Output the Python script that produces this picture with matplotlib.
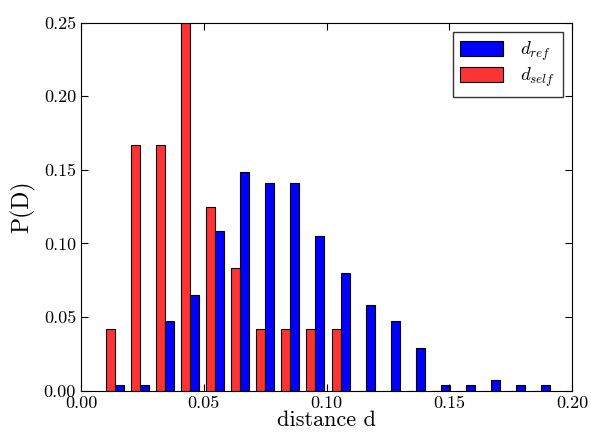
import numpy as np
import matplotlib
matplotlib.use("Agg")
import matplotlib.pyplot as plt

plt.rcParams["font.family"] = "cmr10"
plt.rcParams["mathtext.fontset"] = "cm"
plt.rcParams["axes.formatter.use_mathtext"] = True

# histogram bins (18 bins between the data min and max)
bin_edges = np.linspace(0.0088, 0.1924, 19)

# P(D) per bin
p_self = [0.0417, 0.1667, 0.1667, 0.2500, 0.1250, 0.0833, 0.0417, 0.0417, 0.0417, 0.0417,
          0, 0, 0, 0, 0, 0, 0, 0]
p_ref = [0.0036, 0.0036, 0.0471, 0.0652, 0.1087, 0.1486, 0.1413, 0.1413, 0.1051, 0.0797,
         0.0580, 0.0471, 0.0290, 0.0036, 0.0036, 0.0072, 0.0036, 0.0036]

series_labels = [r"$d_{ref}$", r"$d_{self}$"]
xticks = [0.00, 0.05, 0.10, 0.15, 0.20]
yticks = [0.00, 0.05, 0.10, 0.15, 0.20, 0.25]

centers = 0.5 * (bin_edges[:-1] + bin_edges[1:])
bw = bin_edges[1] - bin_edges[0]
w = 0.36 * bw

fig = plt.figure(figsize=(5.91, 4.34), dpi=100)
ax = fig.add_axes([0.137, 0.0998, 0.831, 0.848])

# red bars on the left half, blue on the right half of each bin
b_self = ax.bar(centers - w / 2, p_self, width=w, color="#ff3333",
                edgecolor="black", linewidth=0.8)
b_ref = ax.bar(centers + w / 2, p_ref, width=w, color="#0000ff",
               edgecolor="black", linewidth=0.8)

ax.set_xlim(0, 0.20)
ax.set_ylim(0, 0.25)
ax.set_xticks(xticks)
ax.set_yticks(yticks)
ax.set_xticklabels(["%.2f" % t for t in xticks])
ax.set_yticklabels(["%.2f" % t for t in yticks])
ax.tick_params(direction="in", top=True, right=True, labelsize=13, length=5)

ax.set_xlabel("distance d", fontsize=16, labelpad=0)
ax.set_ylabel("P(D)", fontsize=17, labelpad=6)

ax.legend([b_ref, b_self], series_labels, loc="upper right", fontsize=13.5,
          fancybox=False, edgecolor="black", handlelength=2.3,
          handleheight=0.85, borderpad=0.4, labelspacing=0.15,
          handletextpad=0.9, borderaxespad=0.5)

fig.savefig("out.png", dpi=100)
